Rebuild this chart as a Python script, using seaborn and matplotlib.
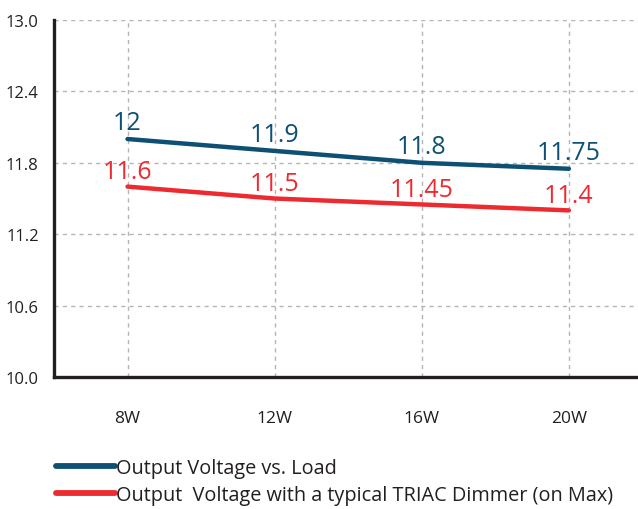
import pandas as pd
import matplotlib.pyplot as plt
import seaborn as sns

# data
loads = ['8W', '12W', '16W', '20W']
v_load = [12.0, 11.9, 11.8, 11.75]
v_triac = [11.6, 11.5, 11.45, 11.4]
v_load_labels = ['12', '11.9', '11.8', '11.75']
v_triac_labels = ['11.6', '11.5', '11.45', '11.4']
y_ticks = [10.0, 10.6, 11.2, 11.8, 12.4, 13.0]

name_load = 'Output Voltage vs. Load'
name_triac = 'Output  Voltage with a typical TRIAC Dimmer (on Max)'
blue = '#0d5073'
red = '#ed2a30'
dark = '#231f20'

df = pd.DataFrame({
    'Load': loads * 2,
    'Voltage': v_load + v_triac,
    'Series': [name_load] * len(loads) + [name_triac] * len(loads),
})

sns.set_theme(style="white")
plt.rcParams['font.family'] = ['Open Sans', 'DejaVu Sans']

fig = plt.figure(figsize=(6.38, 5.10), dpi=100, facecolor='white')
ax = fig.add_axes([0.0846, 0.2588, 0.9154, 0.7000])

sns.lineplot(data=df, x='Load', y='Voltage', hue='Series',
             palette={name_load: blue, name_triac: red},
             linewidth=3.2, ax=ax, legend=False, sort=False)

# value labels above points
for i, (v, t) in enumerate(zip(v_load, v_load_labels)):
    ax.annotate(t, (i, v), xytext=(0, 3), textcoords='offset points',
                ha='center', va='bottom', fontsize=18, color=blue)
for i, (v, t) in enumerate(zip(v_triac, v_triac_labels)):
    ax.annotate(t, (i, v), xytext=(0, 2), textcoords='offset points',
                ha='center', va='bottom', fontsize=18, color=red)

ax.set_xlim(-0.5, 3.47)
ax.set_ylim(10.0, 13.0)
ax.set_yticks(y_ticks)
ax.set_yticklabels([f'{t:.1f}' for t in y_ticks])
ax.set_xticks(range(len(loads)))
ax.set_xticklabels(loads)
ax.tick_params(axis='y', length=0, pad=11, labelsize=12, labelcolor=dark)
ax.tick_params(axis='x', length=0, pad=24, labelsize=12.5, labelcolor=dark)
ax.set_xlabel('')
ax.set_ylabel('')

ax.grid(True, color='#b5b5b5', linestyle=(0, (3, 3)), linewidth=1)
ax.set_axisbelow(True)
for s in ['top', 'right']:
    ax.spines[s].set_visible(False)
for s in ['left', 'bottom']:
    ax.spines[s].set_color(dark)
    ax.spines[s].set_linewidth(2.4)

# legend below the plot
h1, = ax.plot([], [], color=blue, lw=4.2, label=name_load)
h2, = ax.plot([], [], color=red, lw=4.2, label=name_triac)
fig.legend(handles=[h1, h2], loc='upper left', bbox_to_anchor=(0.088, 0.1),
           frameon=False, fontsize=14.3, handlelength=2.95, handletextpad=0.08,
           labelspacing=0.35, borderaxespad=0, borderpad=0, labelcolor=dark)

fig.savefig('out.png', dpi=100, facecolor='white')
